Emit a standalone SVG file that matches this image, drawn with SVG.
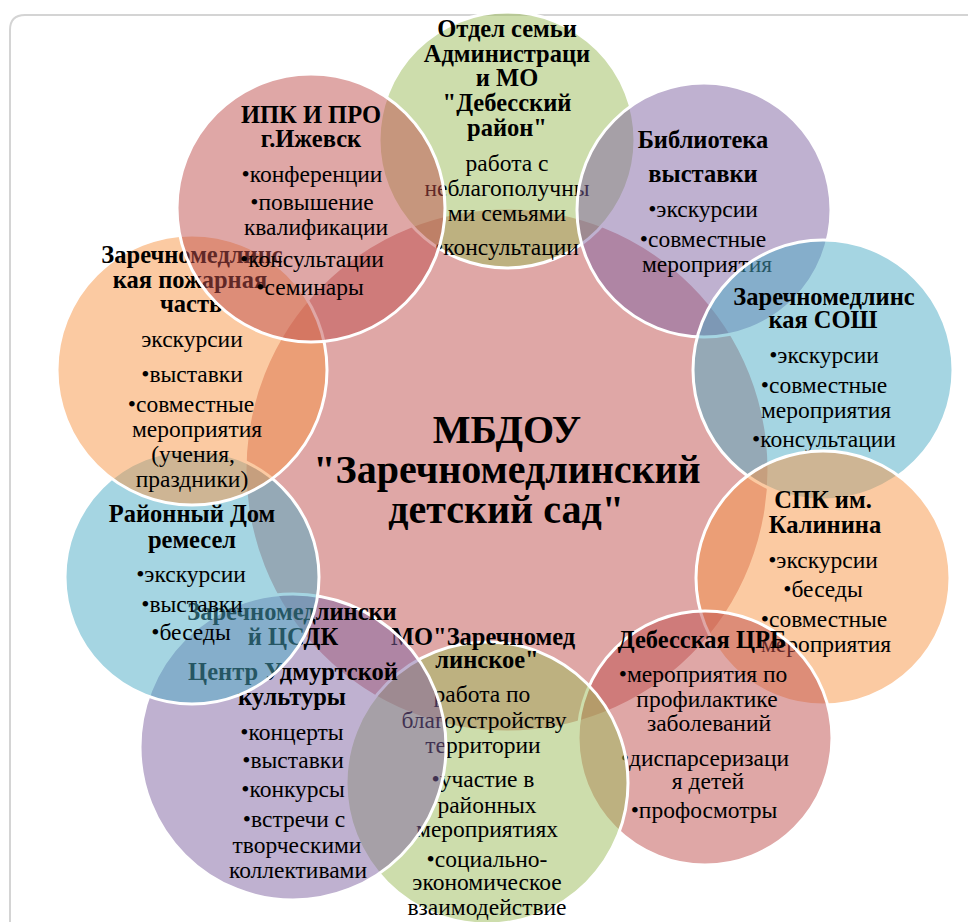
<svg xmlns="http://www.w3.org/2000/svg" width="968" height="922" viewBox="0 0 968 922">
<style>
.n{stroke:#fff;stroke-width:3;fill-opacity:.5}
.red{fill:#C0504D}.grn{fill:#9BBB59}.pur{fill:#8064A2}.aqu{fill:#4BACC6}.org{fill:#F79646}
text{font-family:"Liberation Serif","Times New Roman",serif;fill:#000;text-anchor:middle}
.r{font-size:23.5px}
.b{font-size:24.5px;font-weight:bold}
.c{font-size:40px;font-weight:bold}
</style>
<rect width="968" height="922" fill="#fff"/>
<path d="M10,922 V30 Q10,15 25,15 H968" fill="none" stroke="#d4d4d4" stroke-width="2"/>
<g id="center">
<circle class="n red" cx="507" cy="470" r="262"/>
<text class="c"><tspan x="507" y="443">МБДОУ</tspan><tspan x="507" y="483">"Заречномедлинский</tspan><tspan x="506" y="523">детский сад"</tspan></text>
</g>
<g id="otdel">
<circle class="n grn" cx="507" cy="140" r="128"/>
<text class="b"><tspan x="507" y="37">Отдел семьи</tspan><tspan x="507" y="62">Администраци</tspan><tspan x="507" y="86">и МО</tspan><tspan x="507" y="111">"Дебесский</tspan><tspan x="507" y="136">район"</tspan></text>
<text class="r"><tspan x="507" y="171">работа с</tspan><tspan x="507" y="196">неблагополучны</tspan><tspan x="507" y="221">ми семьями</tspan><tspan x="507" y="255">•консультации</tspan></text>
</g>
<g id="biblioteka">
<circle class="n pur" cx="704" cy="210" r="127"/>
<text class="b"><tspan x="703" y="148">Библиотека</tspan><tspan x="703" y="182">выставки</tspan></text>
<text class="r"><tspan x="703" y="217">•экскурсии</tspan><tspan x="703" y="247">•совместные</tspan><tspan x="707" y="272">мероприятия</tspan></text>
</g>
<g id="sosh">
<circle class="n aqu" cx="823" cy="370" r="130"/>
<text class="b"><tspan x="824" y="305">Заречномедлинс</tspan><tspan x="823" y="328">кая СОШ</tspan></text>
<text class="r"><tspan x="824" y="363">•экскурсии</tspan><tspan x="824" y="393">•совместные</tspan><tspan x="826" y="418">мероприятия</tspan><tspan x="824" y="447">•консультации</tspan></text>
</g>
<g id="spk">
<circle class="n org" cx="823" cy="578" r="127"/>
<text class="b"><tspan x="823" y="508">СПК им.</tspan><tspan x="825" y="533">Калинина</tspan></text>
<text class="r"><tspan x="823" y="568">•экскурсии</tspan><tspan x="823" y="597">•беседы</tspan><tspan x="824" y="627">•совместные</tspan><tspan x="826" y="652">мероприятия</tspan></text>
</g>
<g id="crb">
<circle class="n red" cx="705" cy="738" r="127"/>
<text class="b"><tspan x="702" y="648">Дебесская ЦРБ</tspan></text>
<text class="r"><tspan x="703" y="682">•мероприятия по</tspan><tspan x="707" y="707">профилактике</tspan><tspan x="709" y="731">заболеваний</tspan><tspan x="705" y="766">•диспарсеризаци</tspan><tspan x="708" y="789">я детей</tspan><tspan x="704" y="818">•профосмотры</tspan></text>
</g>
<g id="mo">
<circle class="n grn" cx="487" cy="783" r="141"/>
<text class="b"><tspan x="483" y="645">МО"Заречномед</tspan><tspan x="487" y="668">линское"</tspan></text>
<text class="r"><tspan x="482" y="702">работа по</tspan><tspan x="484" y="728">благоустройству</tspan><tspan x="483" y="753">территории</tspan><tspan x="483" y="787">•участие в</tspan><tspan x="487" y="813">районных</tspan><tspan x="487" y="837">мероприятиях</tspan><tspan x="487" y="867">•социально-</tspan><tspan x="487" y="890">экономическое</tspan><tspan x="487" y="915">взаимодействие</tspan></text>
</g>
<g id="csdk">
<circle class="n pur" cx="293" cy="747" r="153"/>
<text class="b"><tspan x="292" y="620">Заречномедлински</tspan><tspan x="293" y="645">й ЦСДК</tspan><tspan x="293" y="680">Центр Удмуртской</tspan><tspan x="292" y="705">культуры</tspan></text>
<text class="r"><tspan x="292" y="740">•концерты</tspan><tspan x="293" y="768">•выставки</tspan><tspan x="293" y="797">•конкурсы</tspan><tspan x="294" y="827">•встречи с</tspan><tspan x="297" y="853">творческими</tspan><tspan x="298" y="878">коллективами</tspan></text>
</g>
<g id="rayonny-dom">
<circle class="n aqu" cx="192" cy="577" r="127"/>
<text class="b"><tspan x="192" y="522">Районный Дом</tspan><tspan x="192" y="548">ремесел</tspan></text>
<text class="r"><tspan x="191" y="582">•экскурсии</tspan><tspan x="192" y="612">•выставки</tspan><tspan x="191" y="640">•беседы</tspan></text>
</g>
<g id="pozharnaya">
<circle class="n org" cx="192" cy="370" r="135"/>
<text class="b"><tspan x="192" y="263">Заречномедлинс</tspan><tspan x="190" y="288">кая пожарная</tspan><tspan x="191" y="312">часть</tspan></text>
<text class="r"><tspan x="192" y="347">экскурсии</tspan><tspan x="192" y="382">•выставки</tspan><tspan x="191" y="412">•совместные</tspan><tspan x="197" y="437">мероприятия</tspan><tspan x="193" y="462">(учения,</tspan><tspan x="192" y="487">праздники)</tspan></text>
</g>
<g id="ipk">
<circle class="n red" cx="311" cy="208" r="134"/>
<text class="b"><tspan x="311" y="123">ИПК И ПРО</tspan><tspan x="311" y="147">г.Ижевск</tspan></text>
<text class="r"><tspan x="312" y="182">•конференции</tspan><tspan x="312" y="210">•повышение</tspan><tspan x="316" y="235">квалификации</tspan><tspan x="312" y="267">•консультации</tspan><tspan x="310" y="295">•семинары</tspan></text>
</g>
<g id="connectors"></g>
</svg>
